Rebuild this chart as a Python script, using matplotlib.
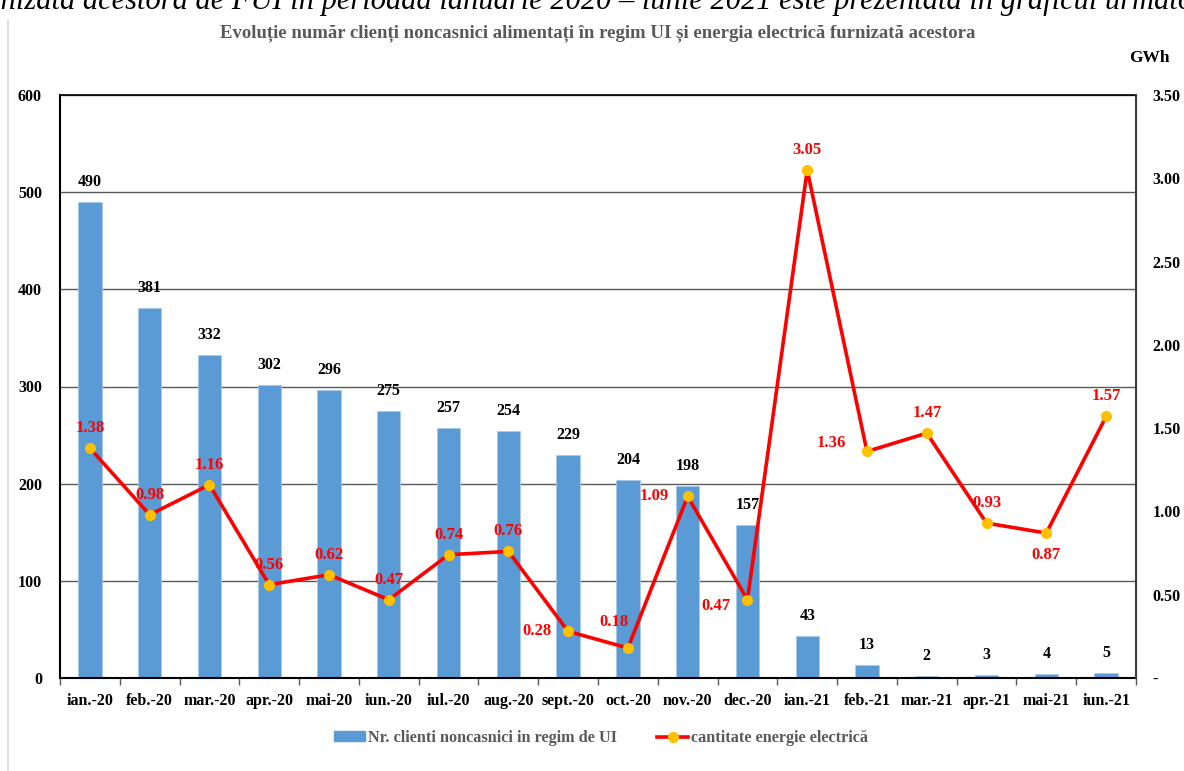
"""
Evolutie numar clienti noncasnici alimentati in regim UI si energia furnizata
Bars: number of clients (left axis), line: energy in GWh (right axis)
"""

import numpy as np
import matplotlib.pyplot as plt
from matplotlib.lines import Line2D
from matplotlib.patches import Patch

months = ['ian.-20', 'feb.-20', 'mar.-20', 'apr.-20', 'mai-20', 'iun.-20',
          'iul.-20', 'aug.-20', 'sept.-20', 'oct.-20', 'nov.-20', 'dec.-20',
          'ian.-21', 'feb.-21', 'mar.-21', 'apr.-21', 'mai-21', 'iun.-21']
clients = [490, 381, 332, 302, 296, 275, 257, 254, 229, 204, 198, 157,
           43, 13, 2, 3, 4, 5]
energy = [1.38, 0.98, 1.16, 0.56, 0.62, 0.47, 0.74, 0.76, 0.28, 0.18, 1.09, 0.47,
          3.05, 1.36, 1.47, 0.93, 0.87, 1.57]

# label offsets (pixels) for the energy values
lbl_off = [(0, 20), (0, 20), (0, 20), (0, 20), (0, 20), (0, 20), (0, 20), (0, 20),
           (-31, 0), (-14, 26), (-33, 0), (-32, -6),
           (0, 20), (-36, 8), (0, 20), (0, 20), (0, -22), (0, 20)]

plt.rcParams['font.family'] = ['Liberation Serif', 'DejaVu Serif']
plt.rcParams['font.weight'] = 'bold'

BLUE = '#5B9BD5'
GRAY = '#595959'

W, H = 1184, 771
fig = plt.figure(figsize=(W / 100, H / 100), dpi=100)
fig.patch.set_facecolor('white')

# plot area in pixel coordinates
left, right, top, bottom = 60, 1136, 95, 678
ax = fig.add_axes([left / W, 1 - bottom / H, (right - left) / W, (bottom - top) / H])
ax2 = ax.twinx()

x = np.arange(len(months))
ax.bar(x, clients, width=0.39, color=BLUE, edgecolor='#A9CBEA', linewidth=0.6, zorder=2)
for xi, v in zip(x, clients):
    ax.annotate(f'{v}', (xi, v), xytext=(0, 20), textcoords='offset pixels',
                ha='center', va='center', fontsize=11.5, fontweight='bold', color='black')

ax.set_xlim(-0.5, len(months) - 0.5)
ax.set_ylim(0, 600)
ax.set_yticks(np.arange(0, 601, 100))
ax.yaxis.grid(True, color=GRAY, linewidth=1.0, zorder=0)
ax.set_axisbelow(True)
ax.tick_params(axis='y', length=0, pad=13, labelsize=11.5)
ax.set_xticks(x)
ax.set_xticklabels(months)
ax.tick_params(axis='x', which='major', length=0, pad=11, labelsize=11.5)
ax.set_xticks(np.arange(-0.5, len(months)), minor=True)
ax.tick_params(axis='x', which='minor', length=5, width=1, color=GRAY, direction='out')
for lab in ax.get_xticklabels() + ax.get_yticklabels():
    lab.set_fontweight('bold')

ax.spines['left'].set_linewidth(1.5)
ax.spines['bottom'].set_linewidth(1.5)
ax.spines['top'].set_linewidth(1.2)
for s in ['left', 'bottom', 'top']:
    ax.spines[s].set_color('black')
ax2.spines['right'].set_color('#404040')
ax2.spines['right'].set_linewidth(1.5)
for s in ['left', 'bottom', 'top']:
    ax2.spines[s].set_visible(False)

# energy line on the secondary axis
ax2.plot(x, energy, color='#FF0000', linewidth=2.6, marker='o', markersize=7,
         markerfacecolor='#FFC000', markeredgecolor='#FFC000', zorder=3)
for xi, v, (dx, dy) in zip(x, energy, lbl_off):
    ax2.annotate(f'{v:.2f}', (xi, v), xytext=(dx, dy), textcoords='offset pixels',
                 ha='center', va='center', fontsize=12, fontweight='bold', color='#FF0000')
ax2.set_ylim(0, 3.5)
ax2.set_yticks(np.arange(0, 3.51, 0.5))
ax2.set_yticklabels(['-'] + [f'{t:.2f}' for t in np.arange(0.5, 3.51, 0.5)])
ax2.tick_params(axis='y', length=0, pad=12, labelsize=11.5)
for lab in ax2.get_yticklabels():
    lab.set_fontweight('bold')

fig.text(1149 / W, 1 - 58 / H, 'GWh', ha='center', va='center',
         fontsize=12.5, fontweight='bold', color='black')

fig.text(598 / W, 1 - 33 / H,
         'Evoluție număr clienți noncasnici alimentați în regim UI și energia electrică furnizată acestora',
         ha='center', va='center', fontsize=13.5, fontweight='bold', color=GRAY)

# surrounding page text, partly cut off at the top
fig.text(585 / W, 1 - 1 / H,
         'furnizată acestora de FUI în perioada ianuarie 2020 – iunie 2021 este prezentată în graficul următor',
         ha='center', va='center', fontsize=22, fontstyle='italic', fontweight='normal',
         color='black')

# chart area frame edge
fig.add_artist(Line2D([8 / W, 8 / W], [0, 1 - 20 / H], transform=fig.transFigure,
                      color='#D9D9D9', linewidth=1.2))

handles = [Patch(facecolor=BLUE, edgecolor=BLUE),
           Line2D([], [], color='#FF0000', linewidth=2.6, marker='o', markersize=7,
                  markerfacecolor='#FFC000', markeredgecolor='#FFC000')]
labels = ['Nr. clienti noncasnici in regim de UI', 'cantitate energie electrică']
leg = fig.legend(handles, labels, loc='center', bbox_to_anchor=(601 / W, 1 - 738 / H),
                 ncol=2, frameon=False, handlelength=1.9, handleheight=0.55,
                 handletextpad=0.15, columnspacing=2.5,
                 prop={'family': 'Liberation Serif', 'weight': 'bold', 'size': 11.7})
for t in leg.get_texts():
    t.set_color(GRAY)

fig.savefig('out.png', dpi=100, facecolor='white')
